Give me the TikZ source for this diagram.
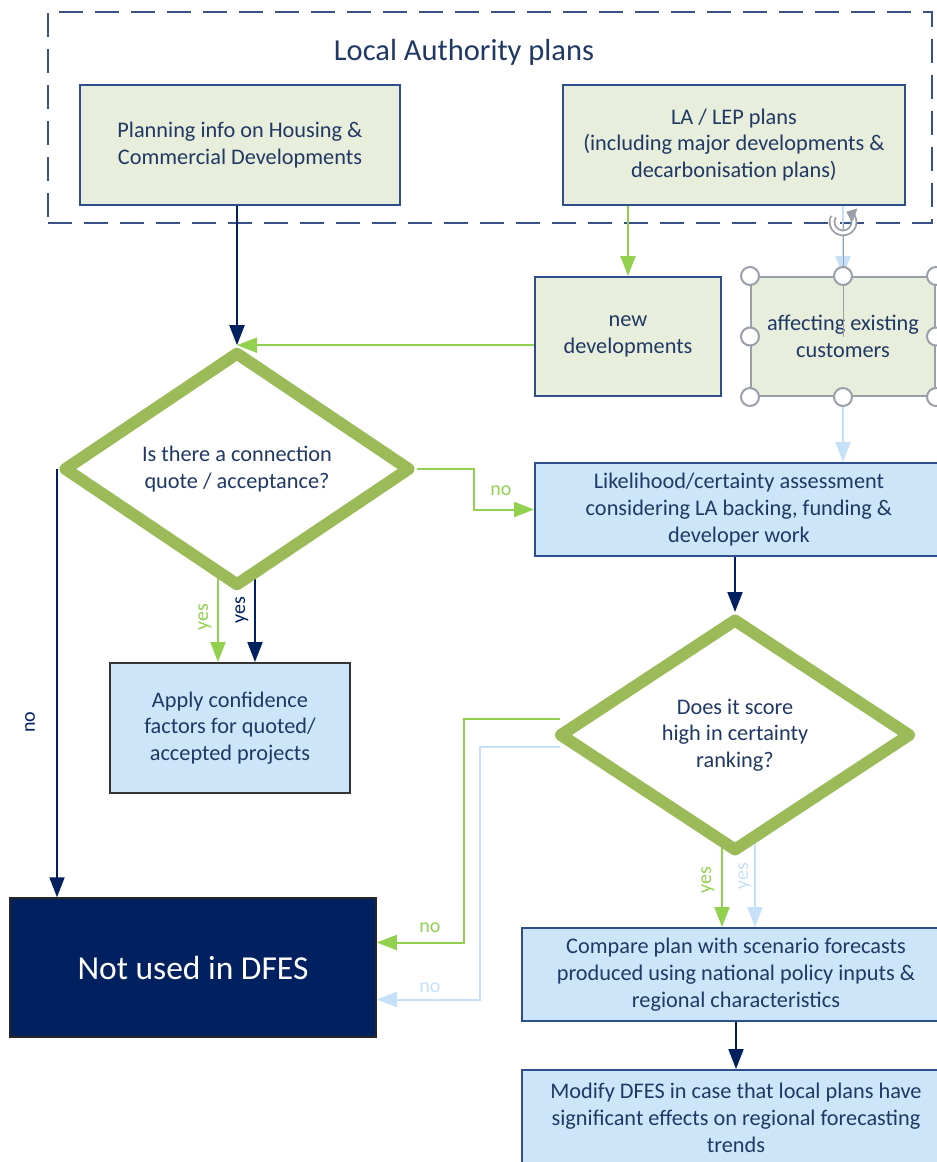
\documentclass[tikz,border=0pt]{standalone}
\usepackage{fontspec}
\setmainfont{Carlito}
\usetikzlibrary{shapes.geometric,arrows.meta,calc}
\definecolor{navyC}{HTML}{002060}
\definecolor{boxC}{HTML}{2F4E8C}
\definecolor{txtC}{HTML}{203864}
\definecolor{dashC}{HTML}{3A5283}
\definecolor{lgreen}{HTML}{92D050}
\definecolor{dgreen}{HTML}{9BBB59}
\definecolor{lblue}{HTML}{C6E0FA}
\definecolor{gfill}{HTML}{E8EEDC}
\definecolor{bfill}{HTML}{CDE5F9}
\definecolor{handleC}{HTML}{9A9FA8}
\pgfdeclarelayer{bg}
\pgfsetlayers{bg,main}
\begin{document}
\begin{tikzpicture}[x=1pt,y=-1pt,
  bodyfont/.style={font=\fontsize{22.3}{26.7}\selectfont},
  gbox/.style={draw=boxC, line width=2pt, fill=gfill, text=txtC, align=center, inner sep=0pt, bodyfont},
  bbox/.style={draw=boxC, line width=2pt, fill=bfill, text=txtC, align=center, inner sep=0pt, bodyfont},
  dec/.style={diamond, draw=dgreen, line width=12pt, line join=round, fill=white, text=txtC, align=center, inner sep=0pt, bodyfont},
  lbl/.style={font=\fontsize{20}{22}\selectfont, inner sep=0pt},
  tipA/.style={-{Triangle[length=20pt,width=15pt]}},
  conn/.style={line width=2pt, tipA},
]
\useasboundingbox (0,0) rectangle (937,1162);
\clip (0,0) rectangle (937,1162);

% frame
\node[draw=dashC, line width=2pt, dash pattern=on 24pt off 12pt, minimum width=884pt, minimum height=211pt, inner sep=0pt] (la) at (490,117.5) {};
\node[text=txtC, font=\fontsize{30.5}{35}\selectfont] (latitle) at (464,52) {Local Authority plans};

% boxes
\node[gbox, minimum width=320pt, minimum height=120pt] (box1) at (240,145) {Planning info on Housing \&\\Commercial Developments};
\node[gbox, minimum width=342pt, minimum height=120pt] (box2) at (734,145) {LA / LEP plans\\(including major developments \&\\decarbonisation plans)};
\node[gbox, minimum width=186pt, minimum height=119pt] (newdev) at (628,336.5) {new\\developments};
\node[gbox, draw=handleC, minimum width=184pt, minimum height=119pt] (affect) at (843,336.5) {affecting existing\\customers};
\node[bbox, minimum width=408pt, minimum height=93pt] (lik) at (739,509.5) {Likelihood/certainty assessment\\considering LA backing, funding \&\\developer work};

\node[dec, minimum width=348pt, minimum height=230pt] (d1) at (237,469) {Is there a connection\\quote / acceptance?};
\node[dec, minimum width=353pt, minimum height=234pt] (d2) at (735,735) {Does it score\\high in certainty\\ranking?};

\node[bbox, draw=black!80, minimum width=240pt, minimum height=130pt] (apply) at (230,728) {Apply confidence\\factors for quoted/\\accepted projects};
\node[draw=black!85, line width=1.5pt, fill=navyC, text=white, inner sep=0pt, minimum width=366pt, minimum height=139pt, font=\fontsize{33.5}{38}\selectfont] (notused) at (193,967.5) {Not used in DFES};
\node[bbox, minimum width=428pt, minimum height=93pt] (compare) at (736,974.5) {Compare plan with scenario forecasts\\produced using national policy inputs \&\\regional characteristics};
\node[bbox, minimum width=428pt, minimum height=96pt] (modify) at (736,1118) {Modify DFES in case that local plans have\\significant effects on regional forecasting\\trends};

% connectors
\draw[conn, navyC] (box1.south -| d1.north) -- (d1.north);
\draw[conn, lgreen] (box2.south -| newdev.north) -- (newdev.north);
\draw[conn, lblue] (box2.south -| affect.north) -- (affect.north);
\draw[conn, lgreen] (d1.north -| newdev.west) -- (d1.north);
\draw[conn, lgreen] (d1.east) -- ++(57,0) |- (lik.west);
\draw[conn, lblue] (affect.south) -- (affect.south |- lik.north);
\draw[conn, navyC] (lik.south -| d2.north) -- (d2.north);
\draw[conn, navyC] (d1.west) -- (d1.west |- notused.north);
\draw[conn, lgreen] ([xshift=7pt,yshift=16pt]d2.west) -- ++(-96,0) |- ([yshift=25pt]notused.east);
\draw[conn, lblue] ([xshift=7pt,yshift=-12pt]d2.west) -- ++(-80,0) |- ([yshift=-32pt]notused.east);
\draw[conn, navyC] (compare.south) -- (modify.north);
\begin{pgfonlayer}{bg}
\draw[conn, lgreen] ([xshift=-19pt]d1.center) -- ([xshift=-19pt]d1.center |- apply.north);
\draw[conn, navyC] ([xshift=18pt]d1.center) -- ([xshift=18pt]d1.center |- apply.north);
\draw[conn, lgreen] ([xshift=-13pt]d2.center) -- ([xshift=-13pt]d2.center |- compare.north);
\draw[conn, lblue] ([xshift=20pt]d2.center) -- ([xshift=20pt]d2.center |- compare.north);
\end{pgfonlayer}

% labels
\node[lbl, text=lgreen] (no1) at (501,491) {no};
\node[lbl, text=lgreen, rotate=90] (yes1) at (205,617) {yes};
\node[lbl, text=navyC, rotate=90] (yes2) at (242,610) {yes};
\node[lbl, text=navyC, rotate=90] (no2) at (30,722) {no};
\node[lbl, text=lgreen] (no3) at (430,928) {no};
\node[lbl, text=lblue] (no4) at (430,988) {no};
\node[lbl, text=lgreen, rotate=90] (yes3) at (708,880) {yes};
\node[lbl, text=lblue, rotate=90] (yes4) at (745,876) {yes};

% selection handles
\coordinate (rot) at ($(affect.north)+(0,-54)$);
\draw[handleC, line width=1pt] (rot) -- (affect.center);
\foreach \a in {north west,north,north east,west,east,south west,south,south east}
  \draw[handleC, line width=2pt, fill=white] (affect.\a) circle[radius=9pt];
\draw[handleC, line width=1.8pt, double=white, double distance=3pt, -{Triangle[length=9pt,width=13pt]}] ([shift={(150:11pt)}]rot) arc[start angle=150, end angle=430, radius=11pt];
\end{tikzpicture}
\end{document}
